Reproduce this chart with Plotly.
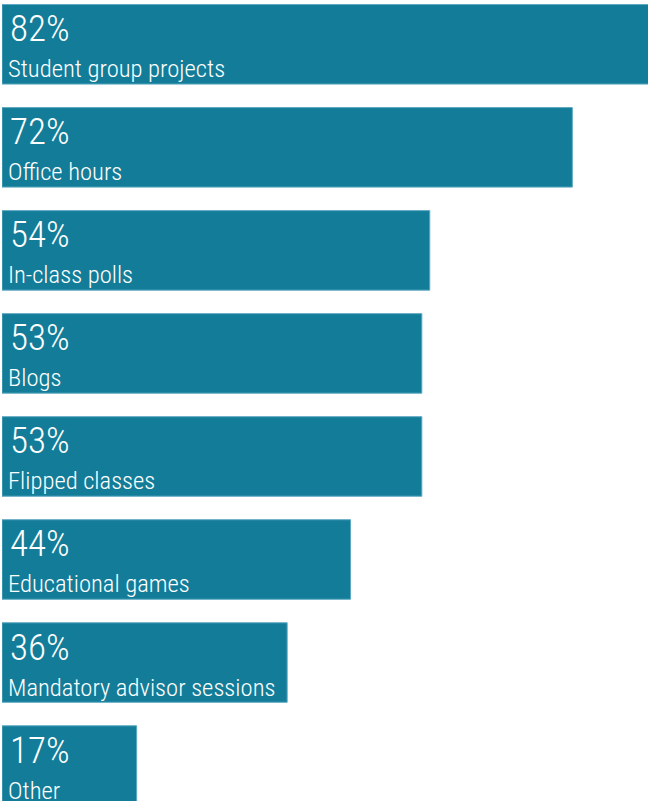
import plotly.graph_objects as go

categories = ["Student group projects", "Office hours", "In-class polls", "Blogs",
              "Flipped classes", "Educational games", "Mandatory advisor sessions", "Other"]
values = [82, 72, 54, 53, 53, 44, 36, 17]

pos = list(range(len(categories)))
bar_w = 0.772
font_family = "Roboto Condensed, DejaVu Sans Condensed, sans-serif"

fig = go.Figure(go.Bar(
    x=values, y=pos, orientation="h", width=bar_w,
    marker=dict(color="#137d99", line=dict(color="#5ea9c2", width=1)),
    hoverinfo="skip",
))

annotations = []
for p, v, c in zip(pos, values, categories):
    annotations.append(dict(
        x=0, y=p, xref="x", yref="y", text=f"{v}%",
        showarrow=False, xanchor="left", yanchor="top", xshift=6, yshift=39,
        font=dict(family=font_family, size=37, color="white", weight=300),
    ))
    annotations.append(dict(
        x=0, y=p, xref="x", yref="y", text=c,
        showarrow=False, xanchor="left", yanchor="bottom", xshift=4, yshift=-41,
        font=dict(family=font_family, size=24.6, color="white", weight=300),
    ))

fig.update_layout(
    width=648, height=801,
    margin=dict(l=2, r=0, t=0, b=0),
    paper_bgcolor="white", plot_bgcolor="white",
    showlegend=False,
    xaxis=dict(range=[0, 81.55], visible=False, fixedrange=True),
    yaxis=dict(range=[7.344, -0.43], visible=False, fixedrange=True),
    annotations=annotations,
)

fig.write_html("out.html", config={"displayModeBar": False})
